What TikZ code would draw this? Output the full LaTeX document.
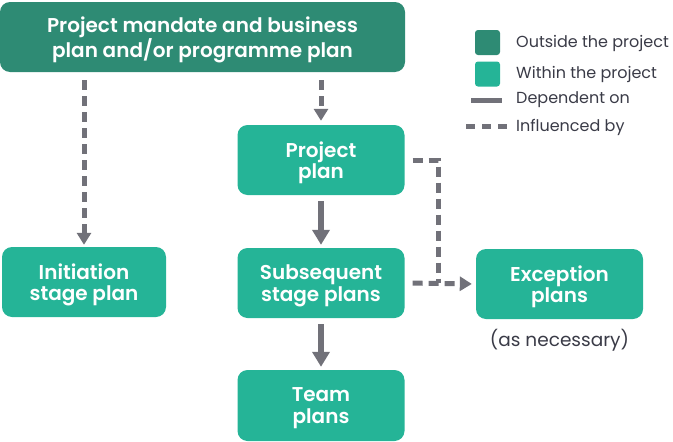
\documentclass[tikz,border=0pt]{standalone}
\usepackage{fontspec}
\setmainfont{Poppins}[BoldFont={* SemiBold}]
\usetikzlibrary{arrows.meta}
\definecolor{outgreen}{HTML}{2E8B74}
\definecolor{ingreen}{HTML}{25B497}
\definecolor{linegray}{HTML}{717179}
\definecolor{textgray}{HTML}{3A3B47}
\tikzset{
	plannode/.style = {
		align=center,
		inner sep=0pt,
		rounded corners=10pt,
		text=white,
		text depth=0pt,
		font=\fontsize{20}{21.5}\selectfont\bfseries,
		minimum width=167pt,
		minimum height=70pt
	},
	node_out/.style = {
		plannode,
		fill=outgreen
	},
	node_in/.style = {
		plannode,
		fill=ingreen
	},
	legendkey/.style = {
		rounded corners=3pt,
		minimum width=25pt,
		minimum height=25pt,
		inner sep=0pt
	},
	legendtext/.style = {
		anchor=west,
		inner sep=0pt,
		text=textgray,
		font=\fontsize{16}{18}\selectfont
	},
	dependent/.style = {
		draw=linegray,
		line width=6pt,
		-{Triangle[width=17pt,length=15pt]}
	},
	influenced/.style = {
		draw=linegray,
		line width=5pt,
		dash pattern=on 10pt off 6pt,
		-{Triangle[width=14pt,length=12pt]}
	},
}

\begin{document}
\begin{tikzpicture}[x=1pt,y=-1pt]
\useasboundingbox (0,0) rectangle (673,442);
% plans
\node [node_out, minimum width=405pt] (mandate) at (202.5,37) {Project mandate and business\\plan and/or programme plan};
\node [node_in] (project) at (321,160) {Project\\plan};
\node [node_in, minimum width=164pt] (initiation) at (84,282) {Initiation\\stage plan};
\node [node_in] (subsequent) at (321,283) {Subsequent\\stage plans};
\node [node_in] (exception) at (559.5,284) {Exception\\plans};
\node [node_in, minimum height=71pt] (team) at (321,405.5) {Team\\plans};
\node [legendtext, anchor=north, font=\fontsize{18.5}{20}\selectfont] (necessary) at (exception.south |- 0,329) {(as necessary)};
% legend
\node [legendkey, fill=outgreen] (keyout) at (487.5,42.5) {};
\node [legendkey, fill=ingreen] (keyin) at (487.5,74) {};
\coordinate (depA) at (471,100);
\coordinate (depB) at (502,100);
\coordinate (infA) at (466,126);
\coordinate (infB) at (508,126);
\draw [draw=linegray, line width=5pt] (depA) -- (depB);
\draw [draw=linegray, line width=5pt, dash pattern=on 9pt off 7pt] (infA) -- (infB);
\node [legendtext] (txtout) at (516,43) {Outside the project};
\node [legendtext] (txtin) at (516,74) {Within the project};
\node [legendtext] (txtdep) at (516,100) {Dependent on};
\node [legendtext] (txtinf) at (516,127) {Influenced by};
% connectors
\coordinate (bend) at (438,160);
\draw [influenced, shorten <=8pt, shorten >=2pt] (mandate.south -| initiation.north) -- (initiation.north);
\draw [influenced, shorten <=8pt, shorten >=4pt] (mandate.south -| project.north) -- (project.north);
\draw [dependent, shorten <=6pt, shorten >=3pt] (project) -- (subsequent);
\draw [dependent, shorten <=6pt, shorten >=3pt] (subsequent) -- (team);
\draw [influenced, -, shorten <=8pt] (project.east) -- (bend) -- (bend |- subsequent.east);
\draw [influenced, shorten <=8pt, shorten >=4pt] (subsequent.east) -- (exception.west);
\end{tikzpicture}
\end{document}
